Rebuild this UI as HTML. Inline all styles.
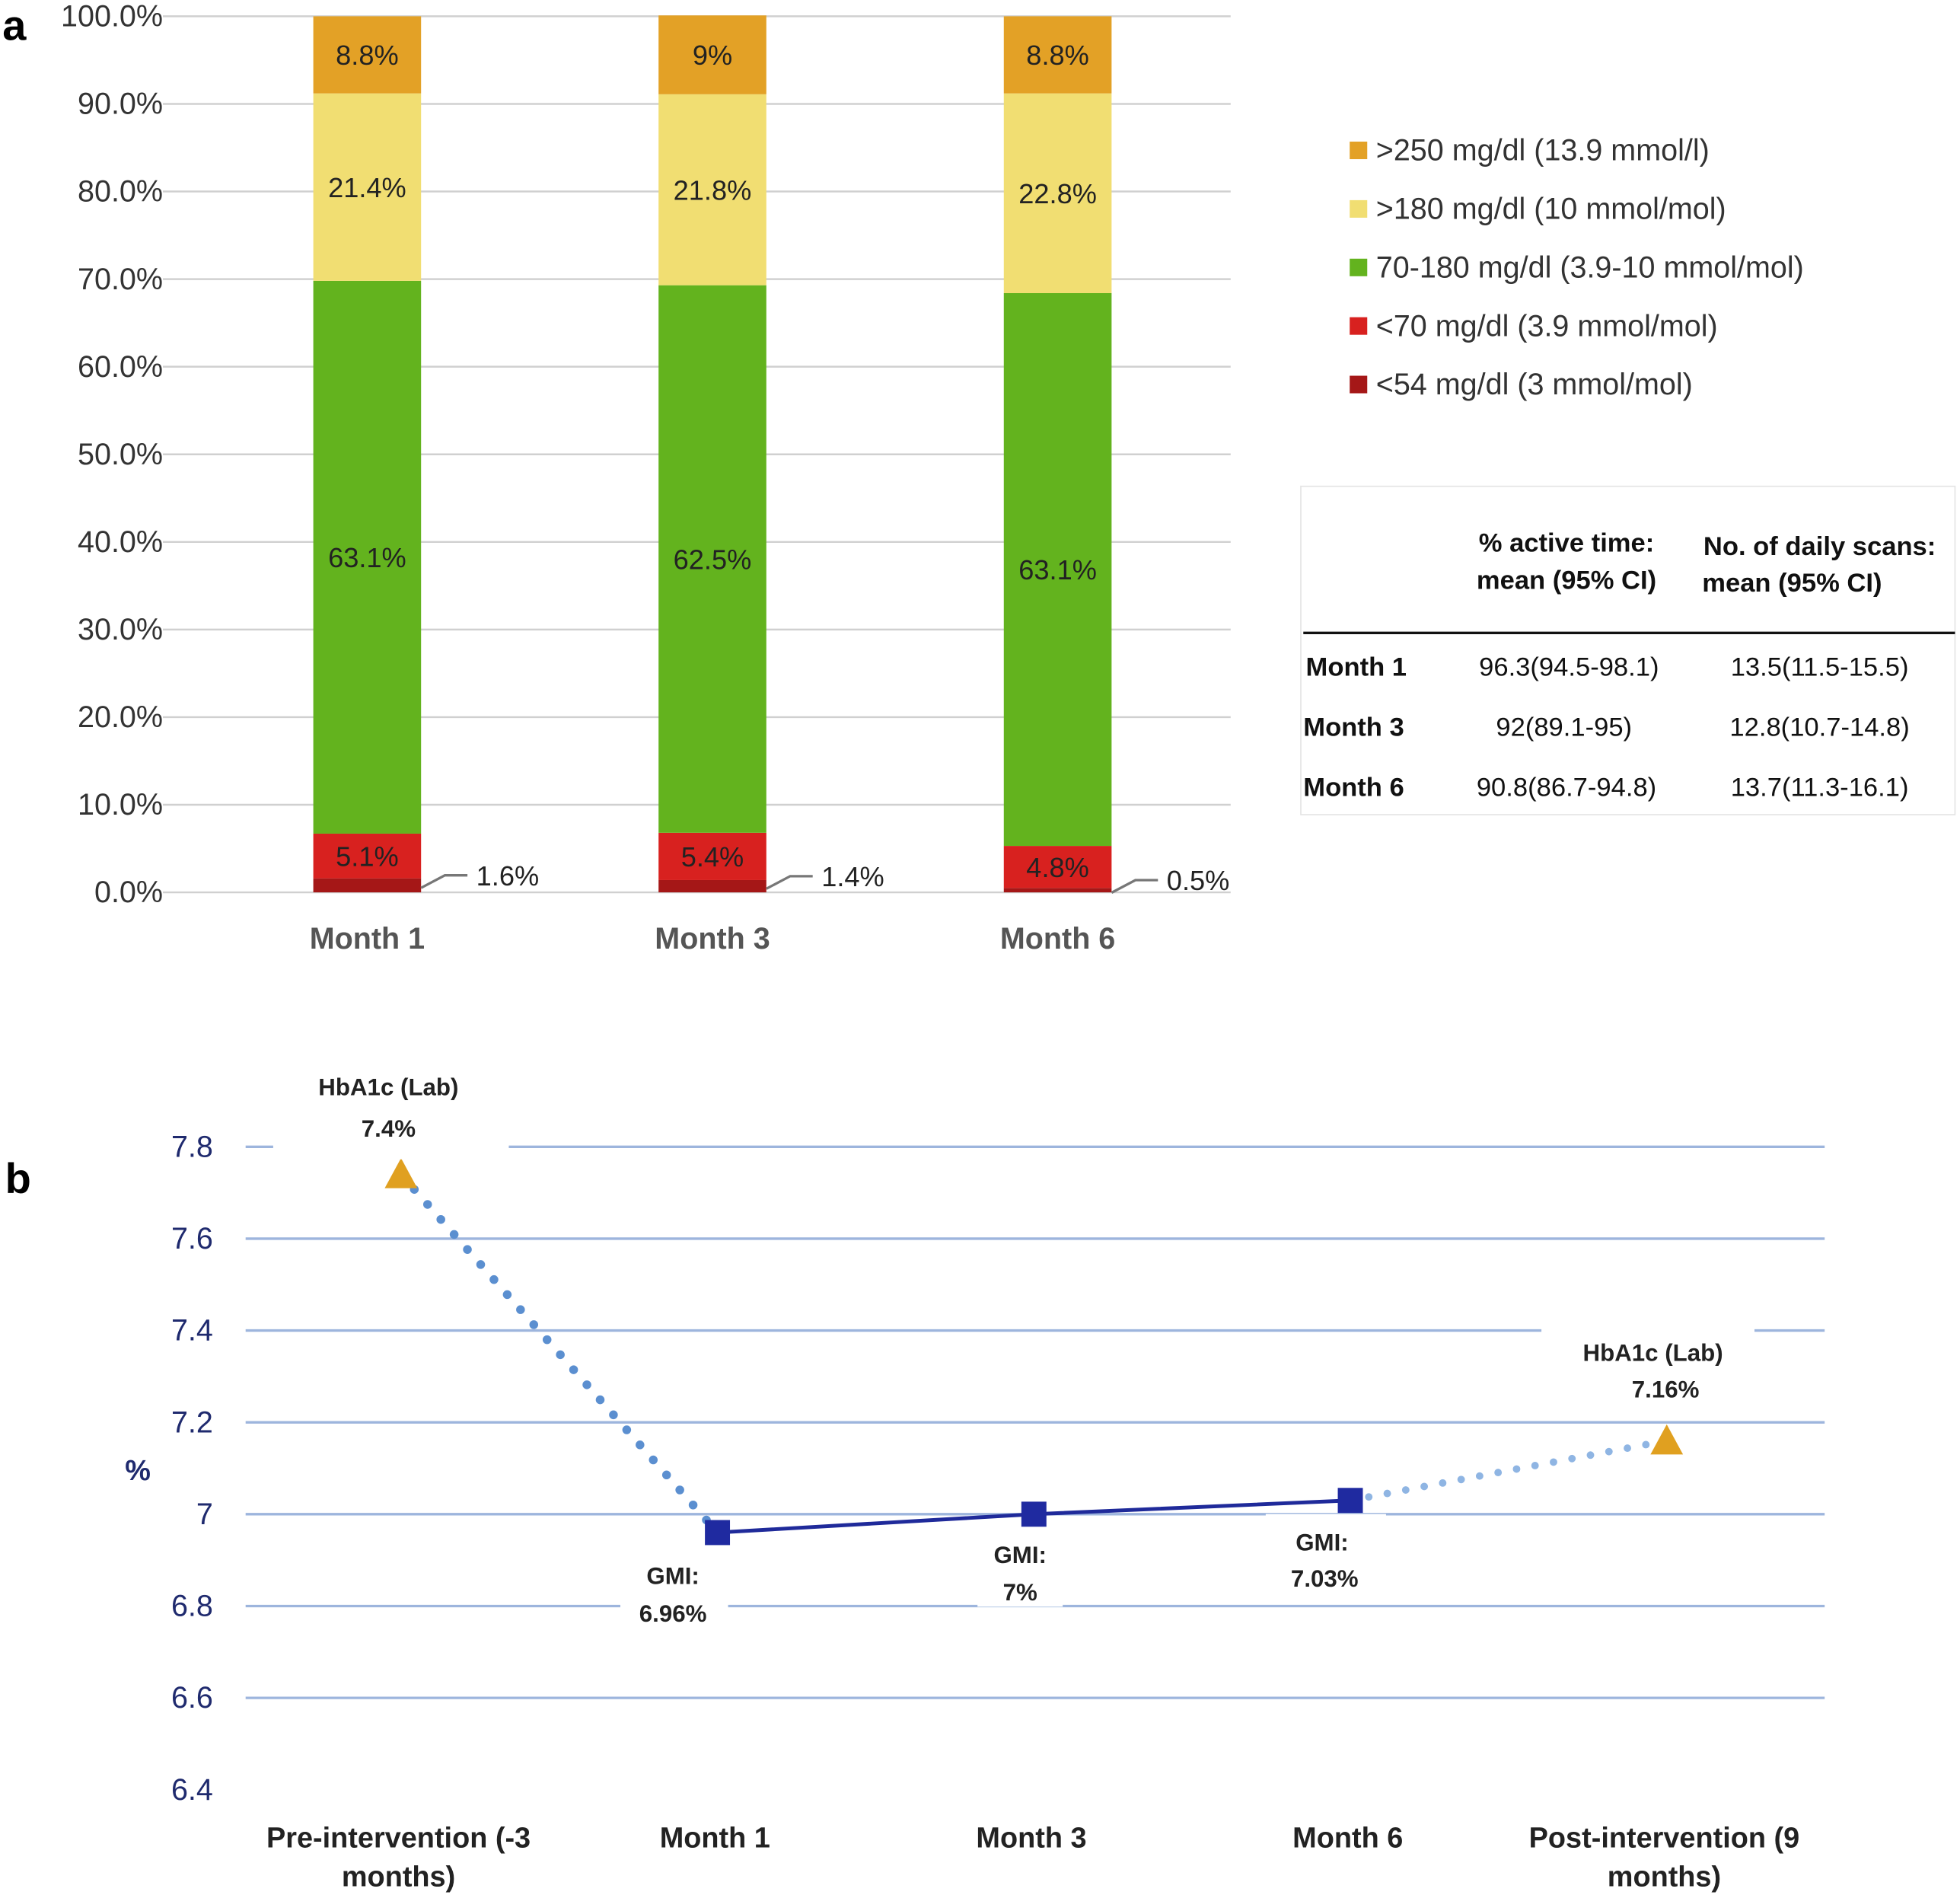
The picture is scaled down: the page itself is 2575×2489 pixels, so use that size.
<!DOCTYPE html>
<html><head><meta charset="utf-8"><style>
html,body{margin:0;padding:0;background:#fff;}
svg{display:block;font-family:"Liberation Sans",Arial,sans-serif;}
</style></head><body>
<svg id="fig" width="2575" height="2489" viewBox="0 0 1564 1512" preserveAspectRatio="none" xmlns="http://www.w3.org/2000/svg">
<rect width="1564" height="1512" fill="#fff"/>
<text x="2" y="32" font-size="34" font-weight="bold">a</text>
<text x="4" y="952" font-size="34" font-weight="bold">b</text>
<g id="chartA"></g>
<g id="legendA"></g>
<g id="tableA">
  <rect x="1038" y="388" width="522" height="262" fill="#fff" stroke="#e4e4e4" stroke-width="1"/>
  <g font-size="21" font-weight="bold" text-anchor="middle" fill="#111">
    <text x="1250" y="440">% active time:</text>
    <text x="1250" y="470">mean (95% CI)</text>
    <text x="1452" y="443">No. of daily scans:</text>
    <text x="1430" y="472">mean (95% CI)</text>
  </g>
  <line x1="1040" y1="505" x2="1560" y2="505" stroke="#111" stroke-width="2"/>
  <g font-size="21" fill="#111">
    <text x="1042" y="539" font-weight="bold">Month 1</text>
    <text x="1252" y="539" text-anchor="middle">96.3(94.5-98.1)</text>
    <text x="1452" y="539" text-anchor="middle">13.5(11.5-15.5)</text>
    <text x="1040" y="587" font-weight="bold">Month 3</text>
    <text x="1248" y="587" text-anchor="middle">92(89.1-95)</text>
    <text x="1452" y="587" text-anchor="middle">12.8(10.7-14.8)</text>
    <text x="1040" y="635" font-weight="bold">Month 6</text>
    <text x="1250" y="635" text-anchor="middle">90.8(86.7-94.8)</text>
    <text x="1452" y="635" text-anchor="middle">13.7(11.3-16.1)</text>
  </g>
</g>
<g id="chartB"></g>
</svg>
<script>
const NS="http://www.w3.org/2000/svg";
function mk(parent,tag,attrs,txt){const e=document.createElementNS(NS,tag);for(const k in attrs)e.setAttribute(k,attrs[k]);if(txt!==undefined)e.textContent=txt;parent.appendChild(e);return e;}

// ---- Chart A data ----
const monthsA=["Month 1","Month 3","Month 6"];
const below54=[1.6,1.4,0.5];
const below70=[5.1,5.4,4.8];
const inRange=[63.1,62.5,63.1];
const above180=[21.4,21.8,22.8];
const above250=[8.8,9,8.8];
const yTicksA=[0,10,20,30,40,50,60,70,80,90,100];
const seriesNames=[">250 mg/dl (13.9 mmol/l)",">180 mg/dl (10 mmol/mol)","70-180 mg/dl (3.9-10 mmol/mol)","<70 mg/dl (3.9 mmol/mol)","<54 mg/dl (3 mmol/mol)"];

const A=document.getElementById('chartA');
const yA=v=>712-v*6.99;
const xA=i=>293+i*275.5;
yTicksA.forEach(t=>{
  const l=mk(A,'line',{x1:130,x2:982,y1:yA(t),y2:yA(t),stroke:'#d0d0d0','stroke-width':1.5});
  
  
  const tx=mk(A,'text',{x:130,y:yA(t)+8,'font-size':24,'text-anchor':'end',fill:'#333'},t.toFixed(1)+'%');
  
  
});
const stack=[below54,below70,inRange,above180,above250];
const colors=['#a51717','#d8211f','#63b31e','#f1de72','#e3a126'];
const keys=['below-54','below-70','in-range','above-180','above-250'];
monthsA.forEach((m,i)=>{
  let cum=0;
  stack.forEach((s,k)=>{
    const v=s[i];
    const r=mk(A,'rect',{x:xA(i)-43,y:yA(cum+v),width:86,height:v*6.99,fill:colors[k]});
    
    
    if(k>0){
      const lab=mk(A,'text',{x:xA(i),y:yA(cum+v/2)+8,'font-size':22,'text-anchor':'middle',fill:'#222'},v+'%');
      
      
    } else {
      const y0=yA(v/2);
      mk(A,'path',{d:`M${xA(i)+43},${y0+2} L${xA(i)+62},${y0-8} L${xA(i)+80},${y0-8}`,stroke:'#777',fill:'none','stroke-width':2});
      const lab=mk(A,'text',{x:xA(i)+87,y:y0,'font-size':22,fill:'#222'},v+'%');
      
      
    }
    cum+=v;
  });
  const c=mk(A,'text',{x:xA(i),y:757,'font-size':24,'font-weight':'bold','text-anchor':'middle',fill:'#555'},m);
  
  
});
const L=document.getElementById('legendA');
const legCols=['#e3a126','#f1de72','#63b31e','#d8211f','#a51717'];
seriesNames.forEach((n,i)=>{
  const y=120+i*46.7;
  const s=mk(L,'rect',{x:1077,y:y-7,width:14,height:14,fill:legCols[i]});
  
  
  const t=mk(L,'text',{x:1098,y:y+8,'font-size':24,fill:'#333'},n);
  
  
});

// ---- Chart B data ----
const catsB=[["Pre-intervention (-3","months)"],["Month 1"],["Month 3"],["Month 6"],["Post-intervention (9","months)"]];
const hba1cPre=7.74;
const gmiValues=[6.96,7.0,7.03];
const hba1cPost=7.16;
const yTicksB=[6.4,6.6,6.8,7,7.2,7.4,7.6,7.8];
const yTickLabelsB=["6.4","6.6","6.8","7","7.2","7.4","7.6","7.8"];

const B=document.getElementById('chartB');
const yB=v=>1428-(v-6.4)*366.4;
const xB=i=>320+i*252.5;
yTicksB.forEach((t,j)=>{
  if(t>6.4){
    const l=mk(B,'line',{x1:196,x2:1456,y1:yB(t),y2:yB(t),stroke:'#9db5dd','stroke-width':2});
    
    
  }
  const tx=mk(B,'text',{x:170,y:yB(t)+8,'font-size':24,'text-anchor':'end',fill:'#1f2a6e'},yTickLabelsB[j]);
  
  
});
const yt=mk(B,'text',{x:110,y:1181,'font-size':23,'font-weight':'bold','text-anchor':'middle',fill:'#1f2a6e'},'%');


catsB.forEach((c,i)=>{
  c.forEach((ln,j)=>{
    const t=mk(B,'text',{x:xB(i)-2,y:1474+j*31,'font-size':23,'font-weight':'bold','text-anchor':'middle',fill:'#222'},ln);
    
    
  });
});
const d1=mk(B,'line',{x1:xB(0),y1:yB(hba1cPre),x2:xB(1),y2:yB(gmiValues[0]),stroke:'#5b8fd0','stroke-width':7,'stroke-linecap':'round','stroke-dasharray':'0 16'});


const d2=mk(B,'line',{x1:xB(3),y1:yB(gmiValues[2]),x2:xB(4),y2:yB(hba1cPost),stroke:'#8fb5e3','stroke-width':6,'stroke-linecap':'round','stroke-dasharray':'0 15'});


const pts=gmiValues.map((v,i)=>xB(i+1)+','+yB(v)).join(' ');
const gl=mk(B,'polyline',{points:pts,fill:'none',stroke:'#1f2a9a','stroke-width':3});


gmiValues.forEach((v,i)=>{
  const m=mk(B,'rect',{x:xB(i+1)-10,y:yB(v)-10,width:20,height:20,fill:'#1f2aa0'});
  
  
});
[[0,hba1cPre],[4,hba1cPost]].forEach(([i,v])=>{
  const x=xB(i),y=yB(v);
  const t=mk(B,'polygon',{points:`${x},${y-13} ${x+13},${y+11} ${x-13},${y+11}`,fill:'#e0a020'});
  
  
});
const ann=[
  [310,867,"HbA1c (Lab)",310,900,"7.4%",218,845,188,80],
  [537,1257,"GMI:",537,1287,"6.96%",495,1236,86,62],
  [814,1240,"GMI:",814,1270,"7%",780,1220,68,62],
  [1055,1230,"GMI:",1057,1259,"7.03%",1010,1208,96,60],
  [1319,1079,"HbA1c (Lab)",1329,1108,"7.16%",1230,1055,170,62]
];
ann.forEach(a=>{
  mk(B,'rect',{x:a[6],y:a[7],width:a[8],height:a[9],fill:'#fff'});
  const t1=mk(B,'text',{x:a[0],y:a[1]+7,'font-size':19,'font-weight':'bold','text-anchor':'middle',fill:'#222'},a[2]);
  
  
  const t2=mk(B,'text',{x:a[3],y:a[4]+7,'font-size':19,'font-weight':'bold','text-anchor':'middle',fill:'#222'},a[5]);
  
  
});
</script>
</body></html>
